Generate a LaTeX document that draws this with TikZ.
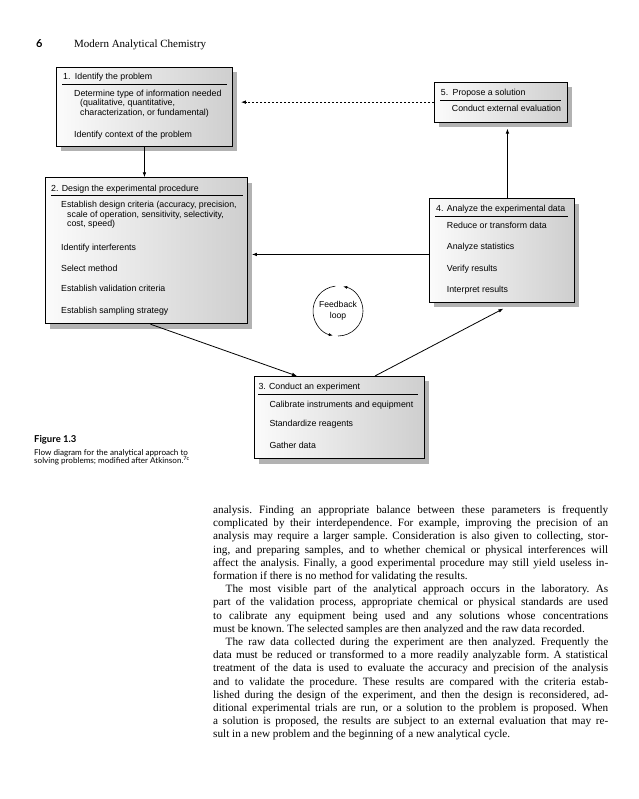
\documentclass[tikz,border=0pt]{standalone}
\usepackage{fontspec}
\setmainfont{Liberation Serif}
\newfontfamily\boxfont{Liberation Sans}
\newfontfamily\capfont{Lato}
\usetikzlibrary{arrows.meta, shadows}
\tikzset{
	stepbox/.style  ={rectangle, draw=black, line width=0.9pt, anchor=north west, left color=gray!3, right color=gray!38, drop shadow={shadow xshift=5pt, shadow yshift=-5pt, fill=gray!60, opacity=1}},
	stepitem/.style ={anchor=base west, inner sep=0pt, font=\boxfont\fontsize{8.8}{9.6}\selectfont},
	steprule/.style ={line width=0.8pt},
	flow/.style     ={-{Latex[length=5pt, width=3.6pt]}, line width=0.8pt},
	dashflow/.style ={flow, dash pattern=on 2.4pt off 1.6pt},
	% feedback circle
	loopnode/.style ={circle, minimum size=50pt, inner sep=0pt, outer sep=0pt, align=center, font=\boxfont\fontsize{8.6}{10.5}\selectfont},
	loopflow/.style ={-{Latex[length=4pt, width=3pt]}, line width=0.6pt},
	% page furniture
	bodytext/.style ={anchor=north west, inner sep=0pt, text width=395pt, align=justify, font=\fontsize{11.2}{13.2}\selectfont\frenchspacing},
	caption/.style  ={anchor=base west, inner sep=0pt, font=\capfont\fontsize{8.1}{8.5}\selectfont},
}

\begin{document}
\begin{tikzpicture}[x=1pt, y=-1pt]
	\fill[white] (0,0) rectangle (638,799);
	\useasboundingbox (0,0) rectangle (638,799);
	% ---------- running head ----------
	\node[anchor=base west, inner sep=0pt, font=\capfont\bfseries\fontsize{11}{13}\selectfont] (pageno) at (36,48) {6};
	\node[anchor=base west, inner sep=0pt, font=\fontsize{11}{13}\selectfont] (runhead) at (74,48) {Modern Analytical Chemistry};
	% ---------- 1. identify ----------
	\node[stepbox, minimum width=176pt, minimum height=79pt] (identify) at (56,66.7) {};
	\node[stepitem] (identifyT) at (63,79.5) {1.\enspace Identify the problem};
	\draw[steprule] (62,84.7) -- (227,84.7);
	\node[stepitem] (identifyA) at (74,96.5) {Determine type of information needed};
	\node[stepitem] (identifyB) at (80,106) {(qualitative, quantitative,};
	\node[stepitem] (identifyC) at (80,115.5) {characterization, or fundamental)};
	\node[stepitem] (identifyD) at (74,138) {Identify context of the problem};
	% ---------- 5. propose ----------
	\node[stepbox, minimum width=132.7pt, minimum height=40pt] (propose) at (434,81.7) {};
	\node[stepitem] (proposeT) at (440.7,95.5) {5.\enspace Propose a solution};
	\draw[steprule] (440,100) -- (561,100);
	\node[stepitem] (proposeA) at (451.7,112) {Conduct external evaluation};
	% ---------- 2. design ----------
	\node[stepbox, minimum width=202pt, minimum height=146pt] (design) at (45,177.3) {};
	\node[stepitem] (designT) at (51,191.3) {2. Design the experimental procedure};
	\draw[steprule] (51,195) -- (243,195);
	\node[stepitem] (designA) at (61,208) {Establish design criteria (accuracy, precision,};
	\node[stepitem] (designB) at (67,217.3) {scale of operation, sensitivity, selectivity,};
	\node[stepitem] (designC) at (67,226.6) {cost, speed)};
	\node[stepitem] (designD) at (61,250.3) {Identify interferents};
	\node[stepitem] (designE) at (61,271.7) {Select method};
	\node[stepitem] (designF) at (61,291.3) {Establish validation criteria};
	\node[stepitem] (designG) at (61,313) {Establish sampling strategy};
	% ---------- 4. analyze ----------
	\node[stepbox, minimum width=145pt, minimum height=103.4pt] (analyze) at (428.5,198.3) {};
	\node[stepitem] (analyzeT) at (436,211.3) {4. Analyze the experimental data};
	\draw[steprule] (435,216) -- (568,216);
	\node[stepitem] (analyzeA) at (446.7,228.7) {Reduce or transform data};
	\node[stepitem] (analyzeB) at (446.7,249.7) {Analyze statistics};
	\node[stepitem] (analyzeC) at (446.7,271.3) {Verify results};
	\node[stepitem] (analyzeD) at (446.7,292) {Interpret results};
	% ---------- 3. experiment ----------
	\node[stepbox, minimum width=170pt, minimum height=82.3pt] (experiment) at (253.5,376) {};
	\node[stepitem] (experimentT) at (258.3,389.7) {3. Conduct an experiment};
	\draw[steprule] (258,394.3) -- (418,394.3);
	\node[stepitem] (experimentA) at (269.3,407.3) {Calibrate instruments and equipment};
	\node[stepitem] (experimentB) at (269.3,426.3) {Standardize reagents};
	\node[stepitem] (experimentC) at (269.3,448) {Gather data};
	% ---------- feedback loop ----------
	\node[loopnode] (feedback) at (338,311) {Feedback\\loop};
	\draw[loopflow] (feedback.-90) arc[start angle=90, end angle=-78, radius=25];
	\draw[loopflow] (feedback.96) arc[start angle=-96, end angle=-258, radius=25];
	% ---------- connectors ----------
	\draw[flow] (identify.south) -- (identify.south |- design.north);
	\draw[dashflow, shorten >=8pt] (propose.west) -- (propose.west -| identify.east);
	\draw[flow, shorten >=6pt] ([xshift=6pt]analyze.north) -- ([xshift=6pt]analyze.north |- propose.south);
	\draw[flow, shorten >=4pt] ([yshift=-4pt]analyze.west) -- ([yshift=-4pt]analyze.west -| design.east);
	\draw[flow] ([xshift=4pt]design.south) -- ([xshift=-42pt]experiment.north);
	\draw[flow] ([xshift=36pt]experiment.north) -- ([xshift=2pt, yshift=-6pt]analyze.south);
	% ---------- caption ----------
	\node[caption, font=\capfont\bfseries\fontsize{9.5}{11}\selectfont] (figlabel) at (34,442.5) {Figure 1.3};
	\node[caption] (capA) at (34,455.3) {Flow diagram for the analytical approach to};
	\node[caption] (capB) at (34,463.8) {solving problems; modified after Atkinson.\textsuperscript{7c}};
	% ---------- body text ----------
	\node[bodytext] (body) at (213,505.4) {analysis. Finding an appropriate balance between these parameters is frequently\linebreak
complicated by their interdependence. For example, improving the precision of an\linebreak
analysis may require a larger sample. Consideration is also given to collecting, stor-\linebreak
ing, and preparing samples, and to whether chemical or physical interferences will\linebreak
affect the analysis. Finally, a good experimental procedure may still yield useless in-\linebreak
formation if there is no method for validating the results.\par
\hspace*{12.5pt}The most visible part of the analytical approach occurs in the laboratory. As\linebreak
part of the validation process, appropriate chemical or physical standards are used\linebreak
to calibrate any equipment being used and any solutions whose concentrations\linebreak
must be known. The selected samples are then analyzed and the raw data recorded.\par
\hspace*{12.5pt}The raw data collected during the experiment are then analyzed. Frequently the\linebreak
data must be reduced or transformed to a more readily analyzable form. A statistical\linebreak
treatment of the data is used to evaluate the accuracy and precision of the analysis\linebreak
and to validate the procedure. These results are compared with the criteria estab-\linebreak
lished during the design of the experiment, and then the design is reconsidered, ad-\linebreak
ditional experimental trials are run, or a solution to the problem is proposed. When\linebreak
a solution is proposed, the results are subject to an external evaluation that may re-\linebreak
sult in a new problem and the beginning of a new analytical cycle.};
\end{tikzpicture}
\end{document}
